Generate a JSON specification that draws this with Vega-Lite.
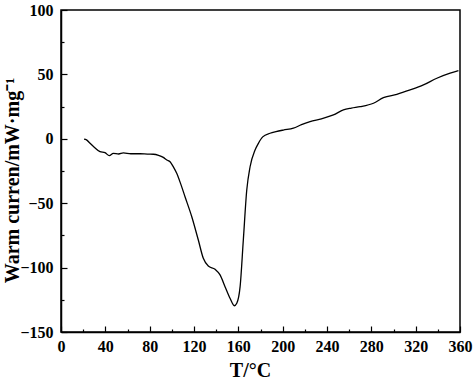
{
  "$schema": "https://vega.github.io/schema/vega-lite/v6.json",
  "width": 399,
  "height": 322,
  "autosize": "none",
  "padding": {"left": 61, "top": 10, "right": 14, "bottom": 49},
  "background": "white",
  "config": {
    "view": {"stroke": "black", "strokeWidth": 1.5},
    "axis": {
      "domainColor": "black", "domainWidth": 1.5, "tickColor": "black", "tickWidth": 1.2,
      "labelFont": "Liberation Serif", "labelFontWeight": "bold", "labelFontSize": 16, "labelColor": "black", "labelFlush": false,
      "titleFont": "Liberation Serif", "titleFontWeight": "bold", "titleFontSize": 20, "titleColor": "black",
      "grid": false
    }
  },
  "data": {"values": [
    {"T": 20.8, "V": -0.2}, {"T": 23, "V": -0.8}, {"T": 26.2, "V": -3.5}, {"T": 30, "V": -6.5}, {"T": 35.2, "V": -10},
    {"T": 39.7, "V": -10.8}, {"T": 43.6, "V": -13.1}, {"T": 47.2, "V": -11.3}, {"T": 52, "V": -11.8},
    {"T": 56.2, "V": -11}, {"T": 63, "V": -11.6}, {"T": 71.3, "V": -11.6}, {"T": 78, "V": -11.9},
    {"T": 83.3, "V": -12}, {"T": 88, "V": -12.8}, {"T": 92.3, "V": -14.4}, {"T": 95.5, "V": -16.5}, {"T": 98.4, "V": -17.8},
    {"T": 101.5, "V": -22}, {"T": 104.4, "V": -26.8}, {"T": 108, "V": -35}, {"T": 111.9, "V": -45},
    {"T": 118, "V": -60.5}, {"T": 123.9, "V": -78.6}, {"T": 128.4, "V": -92.8}, {"T": 132.9, "V": -98.8},
    {"T": 139, "V": -101.3}, {"T": 143.5, "V": -105.7}, {"T": 148, "V": -114.8}, {"T": 152.5, "V": -123.8},
    {"T": 156.4, "V": -129.6}, {"T": 158.6, "V": -127.7}, {"T": 161.6, "V": -114.8}, {"T": 164.5, "V": -78.6},
    {"T": 167.6, "V": -39.8}, {"T": 170.6, "V": -21.7}, {"T": 175.1, "V": -8.7}, {"T": 178.1, "V": -3.5},
    {"T": 182, "V": 1.5}, {"T": 188.6, "V": 4.3},
    {"T": 194, "V": 5.6}, {"T": 200.6, "V": 6.8}, {"T": 209.7, "V": 8.2}, {"T": 217, "V": 11}, {"T": 224.7, "V": 13.3},
    {"T": 235, "V": 15.5}, {"T": 245.8, "V": 18.5}, {"T": 254.8, "V": 22.4}, {"T": 262, "V": 23.8}, {"T": 269.9, "V": 24.9},
    {"T": 281.9, "V": 27.6}, {"T": 290.9, "V": 31.9}, {"T": 303, "V": 34.5}, {"T": 315, "V": 37.9},
    {"T": 327, "V": 41.8}, {"T": 339.1, "V": 47}, {"T": 351.1, "V": 50.9}, {"T": 358.6, "V": 52.9}
  ]},
  "layer": [
    {
      "mark": {"type": "line", "color": "black", "strokeWidth": 1.3, "interpolate": "monotone"},
      "encoding": {
        "x": {"field": "T", "type": "quantitative", "scale": {"domain": [0, 360], "nice": false},
          "axis": {"values": [0, 40, 80, 120, 160, 200, 240, 280, 320, 360], "tickSize": -6, "labelPadding": 12, "title": "T/°C", "titlePadding": 6, "titleX": 189}},
        "y": {"field": "V", "type": "quantitative", "scale": {"domain": [-150, 100], "nice": false},
          "axis": {"values": [-150, -100, -50, 0, 50, 100], "tickSize": -6, "labelPadding": 14, "title": "Warm curren/mW·mg⁻¹", "titleX": -39, "titleY": 170}}
      }
    },
    {
      "mark": {"type": "line", "opacity": 0},
      "encoding": {
        "x": {"field": "T", "type": "quantitative", "scale": {"domain": [0, 360], "nice": false},
          "axis": {"orient": "bottom", "values": [20, 60, 100, 140, 180, 220, 260, 300, 340], "tickSize": -3, "labels": false, "domain": false, "title": null}},
        "y": {"field": "V", "type": "quantitative", "scale": {"domain": [-150, 100], "nice": false},
          "axis": {"orient": "left", "values": [-125, -75, -25, 25, 75], "tickSize": -3, "labels": false, "domain": false, "title": null}}
      }
    }
  ],
  "resolve": {"axis": {"x": "independent", "y": "independent"}}
}
